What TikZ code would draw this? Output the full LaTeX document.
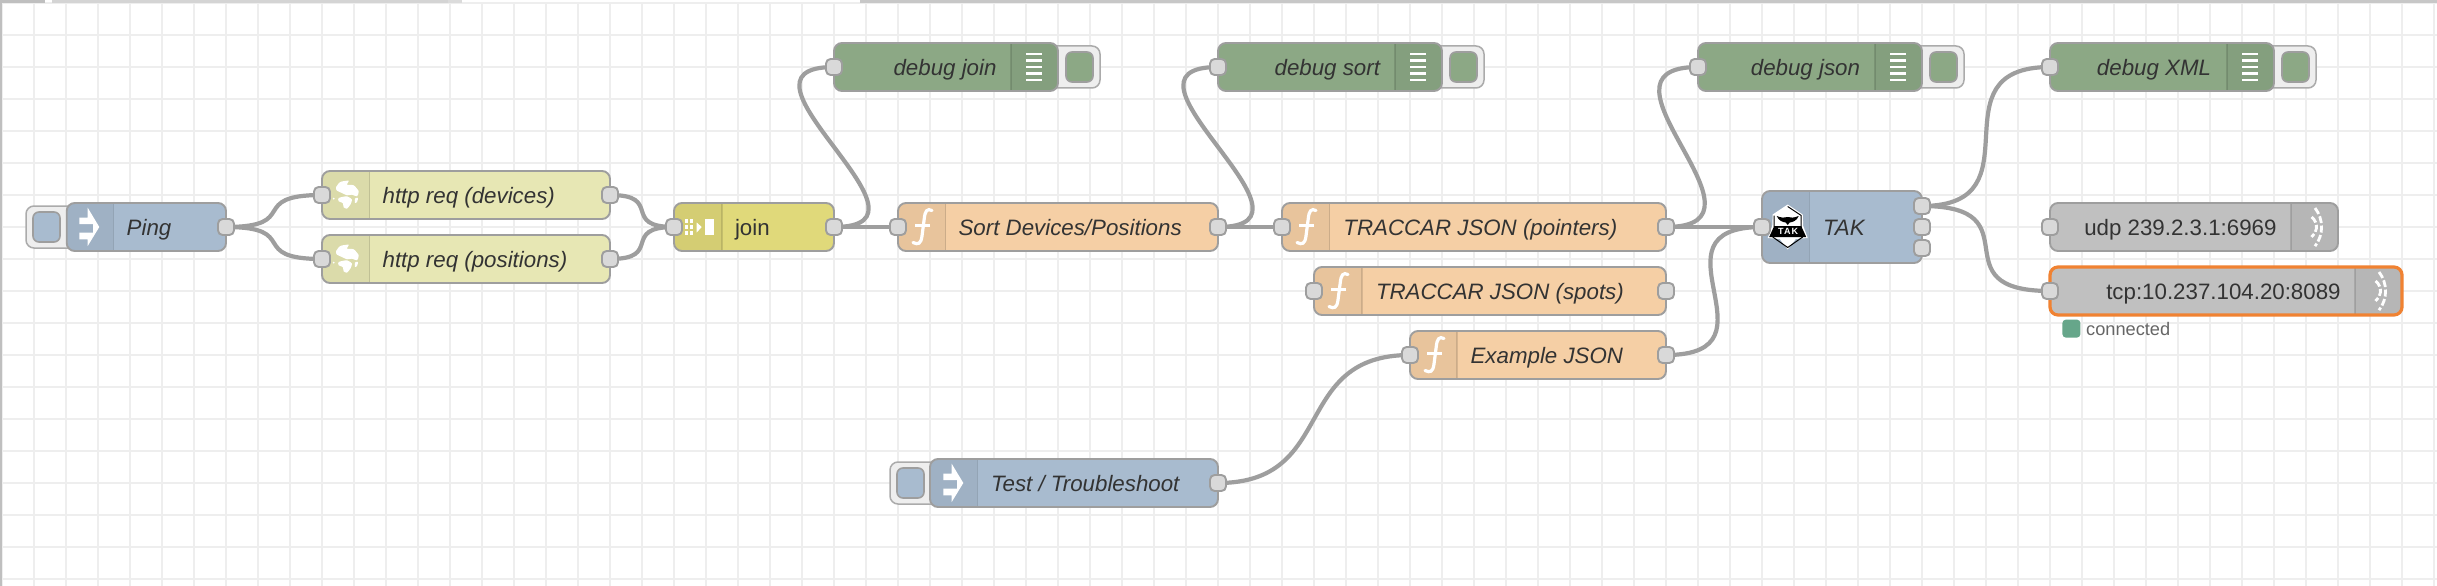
\documentclass[tikz,border=0pt]{standalone}
\usepackage{fontspec}
\setmainfont{Liberation Sans}
\newfontfamily\takfont[LetterSpace=12]{Liberation Sans Bold}
\pgfdeclarelayer{wirelayer}
\pgfsetlayers{wirelayer,main}
\definecolor{gridc}{HTML}{EEEEEE}
\definecolor{edgec}{HTML}{9E9E9E}
\definecolor{portc}{HTML}{D9D9D9}
\definecolor{textc}{HTML}{333333}
\definecolor{injectc}{HTML}{A8BBCF}
\definecolor{httpc}{HTML}{E7E7B4}
\definecolor{joinc}{HTML}{E0D97A}
\definecolor{funcc}{HTML}{F5CFA5}
\definecolor{debugc}{HTML}{8CA885}
\definecolor{netc}{HTML}{C0C0C0}
\definecolor{selc}{HTML}{F08232}
\definecolor{statusc}{HTML}{66A68A}
\tikzset{
  gridline/.style={gridc,line width=2pt},
  wire/.style={edgec,line width=4.2pt},
  bodybox/.style={draw=edgec,line width=1.9pt,rounded corners=8pt,inner sep=0pt,outer sep=0pt},
  dividerline/.style={black,opacity=.12,line width=1.6pt},
  port/.style={draw=edgec,fill=portc,line width=1.9pt,rounded corners=4.6pt,minimum width=16pt,minimum height=16pt,inner sep=0pt,outer sep=0pt},
  btnouter/.style={draw=black!33,fill=gridc,line width=1.5pt,rounded corners=8pt,inner sep=0pt,outer sep=0pt,minimum height=42pt},
  btninner/.style={draw=edgec,line width=1.6pt,rounded corners=6pt,inner sep=0pt,outer sep=0pt,minimum width=27pt,minimum height=30pt},
  nodetext/.style={text=textc,inner sep=0pt,outer sep=0pt,font=\fontsize{22.3}{26}\selectfont},
  itext/.style={nodetext,font=\fontsize{22.3}{26}\selectfont\itshape},
  iconstroke/.style={white,line width=3.2pt,line cap=round},
  waves/.style={white,line width=2.8pt,dash pattern=on 7pt off 2.5pt}
}
% name, left, right, centre y, height, colour, panel outer x, divider x
\newcommand{\flownode}[8]{%
  \fill[#6,rounded corners=8pt] (#2,{#4-#5/2}) rectangle (#3,{#4+#5/2});
  \begin{scope}
    \clip[rounded corners=8pt] (#2,{#4-#5/2}) rectangle (#3,{#4+#5/2});
    \fill[black,opacity=.05] (#7,{#4-#5/2}) rectangle (#8,{#4+#5/2});
  \end{scope}
  \draw[dividerline] (#8,{#4-#5/2}) -- (#8,{#4+#5/2});
  \node[bodybox,minimum width={#3-#2},minimum height={#5}] (#1) at ({(#2+#3)/2},#4) {};
}
\newcommand{\injbutton}[4]{% name, left, right, centre y (inner button colour injectc)
  \node[btnouter,minimum width={#3-#2+12}] (#1o) at ({(#2+#3+12)/2},#4) {};
  \node[btninner,fill=injectc] (#1i) at ({#2+20.5},#4) {};
}
\newcommand{\dbgbutton}[3]{% name, right edge of body, centre y
  \node[btnouter,minimum width=54pt] (#1o) at ({#2+15},#3) {};
  \node[btninner,fill=debugc] (#1i) at ({#2+21.5},#3) {};
}
\newcommand{\arrowicon}[2]{%
  \begin{scope}[shift={(#1,#2)}]
    \fill[white] (-10.7,-9.3) -- (-2.3,-9.3) -- (-2.3,-19.3) -- (9.3,0) -- (-2.3,19) -- (-2.3,12.3) -- (-10.7,12.3) -- (-10.7,5.7) -- (3,5.7) -- (3,-3) -- (-10.7,-3) -- cycle;
  \end{scope}}
\newcommand{\ficon}[2]{%
  \begin{scope}[shift={(#1,#2)}]
    \draw[iconstroke] (10,-16.5) .. controls (5,-19) and (3,-16) .. (2.2,-8) -- (0,9) .. controls (-1,17) and (-4,18) .. (-9,15.5);
    \draw[white,line width=2.2pt] (-7,-1.5) -- (8,-1.5);
  \end{scope}}
\newcommand{\globeicon}[2]{%
  \begin{scope}[shift={(#1,#2)}]
    \fill[white] plot[smooth cycle,tension=.4] coordinates {(-10,-7.7) (-5.7,-13) (2.7,-14.3) (1,-10.3) (7.7,-9.7) (12.7,-3.7) (11,1.3) (6,-.3) (1,.3) (-4,-2) (-9,-4.3)};
    \fill[white] plot[smooth cycle,tension=.4] coordinates {(-7.3,3) (1,1.3) (6,4.7) (4.3,9.7) (1,13.7) (-2.3,12.3) (-3.3,8) (-7.3,6.3)};
    \fill[white] plot[smooth cycle,tension=.5] coordinates {(9,3.5) (12,3) (11,7) (9,8)};
    \fill[white] (-12.3,3.7) circle (1);
  \end{scope}}
\newcommand{\listicon}[2]{%
  \begin{scope}[shift={(#1,#2)}]
    \foreach \d in {-13,-6.5,0,6.5,13} \fill[white] (-8,{\d-1.2}) rectangle (8,{\d+1.2});
  \end{scope}}
\newcommand{\waveicon}[2]{%
  \begin{scope}[shift={(#1,#2)}]
    \draw[waves] (0.5,-19) arc[start angle=-38,end angle=38,radius=31];
    \draw[waves] (-3,-10) arc[start angle=-53,end angle=53,radius=12.5];
  \end{scope}}
\newcommand{\wirelink}[3]{\draw[wire] (#1.center) .. controls +(#3,0) and +(-#3,0) .. (#2.center);}
\begin{document}
\begin{tikzpicture}[x=1pt,y=-1pt]
\useasboundingbox (0,0) rectangle (2437,586);
\begin{pgfonlayer}{wirelayer}
\fill[white] (0,0) rectangle (2437,586);
\foreach \k in {0,...,76} \draw[gridline] ({2+32*\k},0) -- ({2+32*\k},586);
\foreach \k in {0,...,18} \draw[gridline] (0,{2.7+32*\k}) -- (2437,{2.7+32*\k});
\fill[white] (462,0) rectangle (860,2);
\fill[black!25] (0,0) rectangle (45,2.6);
\fill[black!17] (52,0) rectangle (448,2.6);
\fill[black!14] (448,0) rectangle (462,3.4);
\fill[black!22] (860,0) rectangle (2437,2.6);
\fill[black!25] (0,0) rectangle (2.4,586);
\end{pgfonlayer}

% inject: Ping
\injbutton{pingbtn}{26}{66.7}{227}
\flownode{ping}{66.7}{226}{227}{48}{injectc}{66.7}{113.3}
\arrowicon{90}{227}
\node[itext,anchor=base west] (pingtxt) at (126.7,235) {Ping};
\node[port] (pingO) at (226,227) {};

% http requests
\flownode{devices}{322}{610}{195}{48}{httpc}{322}{369.6}
\globeicon{346}{195}
\node[itext,anchor=base west] (devtxt) at (382.6,203) {http req (devices)};
\node[port] (devI) at (322,195) {};
\node[port] (devO) at (610,195) {};
\flownode{positions}{322}{610}{259}{48}{httpc}{322}{369.6}
\globeicon{346}{259}
\node[itext,anchor=base west] (postxt) at (382.6,267) {http req (positions)};
\node[port] (posI) at (322,259) {};
\node[port] (posO) at (610,259) {};

% join
\flownode{join}{674}{834}{227}{48}{joinc}{674}{722}
\foreach \cx in {686.5,691.5} \foreach \cy in {221,227,233} \fill[white] ({\cx-1.5},{\cy-1.7}) rectangle ({\cx+1.5},{\cy+1.7});
\fill[white] (696.7,222.5) -- (701.7,227) -- (696.7,232.5) -- cycle;
\fill[white] (705,219.3) rectangle (714,234.5);
\node[nodetext,anchor=base west] (jointxt) at (735,235) {join};
\node[port] (joinI) at (674,227) {};
\node[port] (joinO) at (834,227) {};

% functions
\flownode{sort}{898}{1218}{227}{48}{funcc}{898}{945.6}
\ficon{922}{227}
\node[itext,anchor=base west] (sorttxt) at (958.6,235) {Sort Devices/Positions};
\node[port] (sortI) at (898,227) {};
\node[port] (sortO) at (1218,227) {};
\flownode{pointers}{1282}{1666}{227}{48}{funcc}{1282}{1329.6}
\ficon{1306}{227}
\node[itext,anchor=base west] (ptrtxt) at (1343.4,235) {TRACCAR JSON (pointers)};
\node[port] (ptrI) at (1282,227) {};
\node[port] (ptrO) at (1666,227) {};
\flownode{spots}{1314}{1666}{291}{48}{funcc}{1314}{1361.7}
\ficon{1338}{291}
\node[itext,anchor=base west] (spottxt) at (1376,299) {TRACCAR JSON (spots)};
\node[port] (spotI) at (1314,291) {};
\node[port] (spotO) at (1666,291) {};
\flownode{example}{1410}{1666}{355}{48}{funcc}{1410}{1457}
\ficon{1434}{355}
\node[itext,anchor=base west] (extxt) at (1470.6,363) {Example JSON};
\node[port] (exI) at (1410,355) {};
\node[port] (exO) at (1666,355) {};

% inject: Test
\injbutton{testbtn}{890}{930}{483}
\flownode{test}{930}{1218}{483}{48}{injectc}{930}{977.3}
\arrowicon{954}{483}
\node[itext,anchor=base west] (testtxt) at (991,491) {Test / Troubleshoot};
\node[port] (testO) at (1218,483) {};

% debug nodes
\dbgbutton{dbgjoinbtn}{1058}{67}
\flownode{dbgjoin}{834}{1058}{67}{48}{debugc}{1058}{1011}
\listicon{1034}{67}
\node[itext,anchor=base east] (djtxt) at (996.5,75) {debug join};
\node[port] (djI) at (834,67) {};
\dbgbutton{dbgsortbtn}{1442}{67}
\flownode{dbgsort}{1218}{1442}{67}{48}{debugc}{1442}{1394.7}
\listicon{1418}{67}
\node[itext,anchor=base east] (dstxt) at (1380,75) {debug sort};
\node[port] (dsI) at (1218,67) {};
\dbgbutton{dbgjsonbtn}{1922}{67}
\flownode{dbgjson}{1698}{1922}{67}{48}{debugc}{1922}{1875}
\listicon{1898}{67}
\node[itext,anchor=base east] (djstxt) at (1860,75) {debug json};
\node[port] (djsI) at (1698,67) {};
\dbgbutton{dbgxmlbtn}{2274}{67}
\flownode{dbgxml}{2050}{2274}{67}{48}{debugc}{2274}{2226.7}
\listicon{2250}{67}
\node[itext,anchor=base east] (dxtxt) at (2211,75) {debug XML};
\node[port] (dxI) at (2050,67) {};

% TAK
\flownode{tak}{1762}{1922}{227}{72}{injectc}{1762}{1809.3}
\begin{scope}[shift={(1787.7,227)}]
  \fill[white] (0,-22.5) -- (15,-12.5) -- (15.5,-1) -- (20,11) -- (8,12) -- (0,22.5) -- (-8,12) -- (-20,11) -- (-15.5,-1) -- (-15,-12.5) -- cycle;
  \draw[black,line width=1pt] (0,-20.5) -- (13.5,-11.5) -- (13.5,0) (-13.5,0) -- (-13.5,-11.5) -- cycle;
  \draw[black,line width=1pt] (-15,10) -- (0,20.5) -- (15,10);
  \fill[black] (-13.5,-1) -- (13.5,-1) -- (18.5,10) -- (-18.5,10) -- cycle;
  \fill[black] (-11,-11) .. controls (-6,-9) and (-3,-9) .. (0,-10) .. controls (3,-9) and (6,-9) .. (11,-11) .. controls (9,-6) and (5,-5) .. (2,-4.5) -- (0,-2) -- (-2,-4.5) .. controls (-5,-5) and (-9,-6) .. (-11,-11) -- cycle;
  \node[text=white,inner sep=0pt,font=\fontsize{9}{9}\takfont] (takbadge) at (0.4,4.5) {TAK};
\end{scope}
\node[itext,anchor=base west] (taktxt) at (1823,235) {TAK};
\node[port] (takI) at (1762,227) {};
\node[port] (takO1) at (1922,206) {};
\node[port] (takO2) at (1922,227) {};
\node[port] (takO3) at (1922,248) {};

% udp / tcp
\flownode{udp}{2050}{2338}{227}{48}{netc}{2338}{2291}
\waveicon{2314.5}{227}
\node[nodetext,anchor=base east] (udptxt) at (2276.5,235) {udp 239.2.3.1:6969};
\node[port] (udpI) at (2050,227) {};
\flownode{tcp}{2050}{2402}{291}{48}{netc}{2402}{2355}
\waveicon{2378.5}{291}
\node[nodetext,anchor=base east] (tcptxt) at (2340.6,299) {tcp:10.237.104.20:8089};
\draw[selc,line width=3.2pt,rounded corners=8pt] (tcp.north west) rectangle (tcp.south east);
\node[port] (tcpI) at (2050,291) {};
\node[fill=statusc,rounded corners=3.5pt,minimum width=18pt,minimum height=18pt,inner sep=0pt] (status) at (2071.4,328.6) {};
\node[text=black!60,inner sep=0pt,anchor=base west,font=\fontsize{18.2}{20}\selectfont] (statustxt) at (2086,335) {connected};

% wires
\begin{pgfonlayer}{wirelayer}
\wirelink{pingO}{devI}{75.9}
\wirelink{pingO}{posI}{75.9}
\wirelink{devO}{joinI}{53.7}
\wirelink{posO}{joinI}{53.7}
\wirelink{joinO}{sortI}{48}
\wirelink{joinO}{djI}{120}
\wirelink{sortO}{ptrI}{48}
\wirelink{sortO}{dsI}{120}
\wirelink{ptrO}{takI}{72}
\wirelink{ptrO}{djsI}{120}
\wirelink{exO}{takI}{120}
\wirelink{testO}{exI}{120}
\wirelink{takO1}{dxI}{120}
\wirelink{takO1}{tcpI}{115}
\end{pgfonlayer}
\end{tikzpicture}
\end{document}
